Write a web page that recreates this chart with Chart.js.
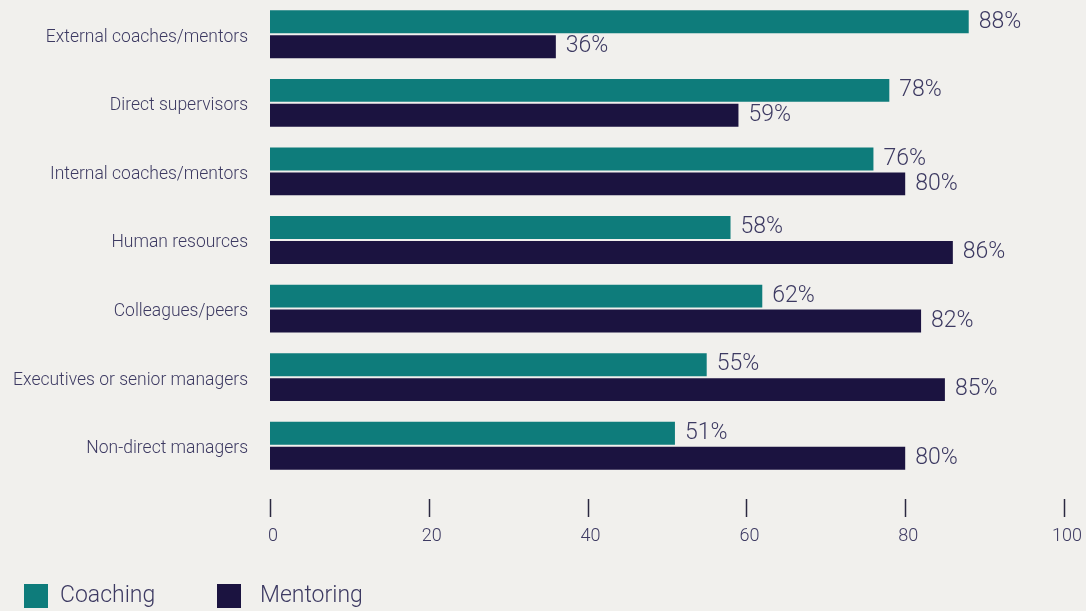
<!DOCTYPE html>
<html>
<head>
<meta charset="utf-8">
<script src="https://cdn.jsdelivr.net/npm/chart.js@4/dist/chart.umd.min.js"></script>
<style>
  html, body { margin: 0; padding: 0; background: #f1f0ed; }
  canvas { display: block; }
</style>
</head>
<body>
<canvas id="chart" width="1086" height="611"></canvas>
<script>
// veriler
const kategoriler = [
  "External coaches/mentors",
  "Direct supervisors",
  "Internal coaches/mentors",
  "Human resources",
  "Colleagues/peers",
  "Executives or senior managers",
  "Non-direct managers",
];
const coaching = [88, 78, 76, 58, 62, 55, 51];
const mentoring = [36, 59, 80, 86, 82, 85, 80];
const xTicks = [0, 20, 40, 60, 80, 100];

const metinRengi = "#3d3a62";
const fontAile = "Roboto, 'Liberation Sans', sans-serif";

// bar sonundaki yüzde etiketleri
const yuzdeEtiketleri = {
  id: "yuzdeEtiketleri",
  afterDatasetsDraw(chart) {
    const ctx = chart.ctx;
    ctx.save();
    ctx.font = "300 23px " + fontAile;
    ctx.fillStyle = metinRengi;
    ctx.textAlign = "left";
    ctx.textBaseline = "middle";
    chart.data.datasets.forEach((ds, i) => {
      chart.getDatasetMeta(i).data.forEach((bar, j) => {
        ctx.fillText(ds.data[j] + "%", bar.x + 10, bar.y);
      });
    });
    ctx.restore();
  },
};

// x ekseni çentikleri
const centikler = {
  id: "centikler",
  afterDraw(chart) {
    const x = chart.scales.x;
    const ctx = chart.ctx;
    ctx.save();
    ctx.strokeStyle = "#2b2840";
    ctx.lineWidth = 1.5;
    xTicks.forEach((v) => {
      const px = Math.round(x.getPixelForValue(v)) + 0.5;
      ctx.beginPath();
      ctx.moveTo(px, x.top + 19);
      ctx.lineTo(px, x.top + 37);
      ctx.stroke();
    });
    ctx.restore();
  },
};

// alt lejant
const lejant = {
  id: "lejant",
  afterDraw(chart) {
    const ctx = chart.ctx;
    const kutular = [24, 217];
    const yazilar = [60, 260];
    ctx.save();
    ctx.font = "300 23px " + fontAile;
    ctx.textAlign = "left";
    ctx.textBaseline = "middle";
    chart.data.datasets.forEach((ds, i) => {
      ctx.fillStyle = ds.backgroundColor;
      ctx.fillRect(kutular[i], 584, 24, 24);
      ctx.fillStyle = metinRengi;
      ctx.fillText(ds.label, yazilar[i], 596);
    });
    ctx.restore();
  },
};

const ctx = document.getElementById("chart").getContext("2d");
new Chart(ctx, {
  type: "bar",
  data: {
    labels: kategoriler,
    datasets: [
      {
        label: "Coaching",
        data: coaching,
        backgroundColor: "#0e7c7b",
        categoryPercentage: 0.727,
        barPercentage: 0.92,
      },
      {
        label: "Mentoring",
        data: mentoring,
        backgroundColor: "#1b1340",
        categoryPercentage: 0.727,
        barPercentage: 0.92,
      },
    ],
  },
  options: {
    indexAxis: "y",
    responsive: false,
    animation: false,
    devicePixelRatio: 1,
    layout: { padding: { top: -1, right: 22, bottom: 0, left: 0 } },
    plugins: {
      legend: { display: false },
      tooltip: { enabled: false },
    },
    scales: {
      x: {
        min: 0,
        max: 100,
        afterFit: (s) => {
          s.height = 131;
          s.paddingLeft = 0;
          s.paddingRight = 0;
        },
        afterBuildTicks: (s) => { s.ticks = xTicks.map((v) => ({ value: v })); },
        grid: { display: false, drawTicks: false },
        border: { display: false },
        ticks: {
          padding: 46,
          labelOffset: 3,
          maxRotation: 0,
          color: metinRengi,
          font: { family: fontAile, size: 18, weight: 300 },
        },
      },
      y: {
        afterFit: (s) => {
          s.width = 270;
          s.paddingTop = 0;
          s.paddingBottom = 0;
        },
        grid: { display: false, drawTicks: false },
        border: { display: false },
        ticks: {
          padding: 22,
          labelOffset: 3,
          color: metinRengi,
          font: { family: fontAile, size: 17.5, weight: 300 },
        },
      },
    },
  },
  plugins: [yuzdeEtiketleri, centikler, lejant],
});
</script>
</body>
</html>
